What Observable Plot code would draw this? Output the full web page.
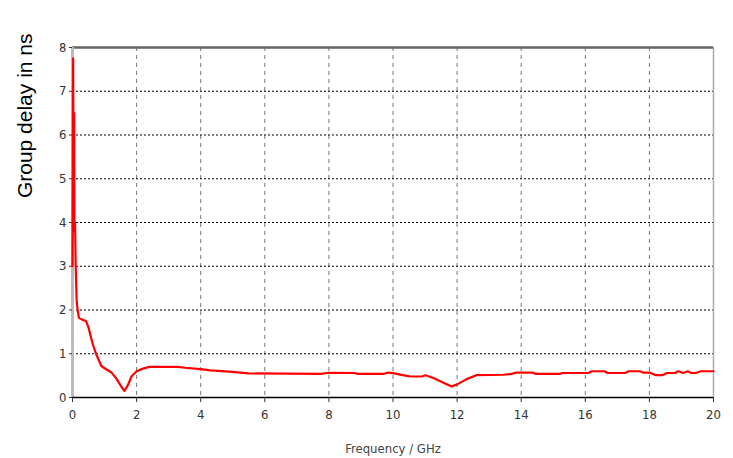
<!DOCTYPE html>
<html>
<head>
<meta charset="utf-8">
<script src="https://cdn.jsdelivr.net/npm/d3@7"></script>
<script src="https://cdn.jsdelivr.net/npm/@observablehq/plot@0.6"></script>
<style>
  html, body { margin: 0; padding: 0; background: #fff; }
  #chart svg { display: block; }
  #chart svg [aria-label^="x-axis tick label"], #chart svg [aria-label^="y-axis tick label"], #chart svg .xtitle { font-stretch: condensed; }
</style>
</head>
<body>
<div id="chart"></div>
<script>
// Frequency in GHz
const freq = [
  0.0, 0.02, 0.035, 0.05, 0.06, 0.08, 0.1, 0.13, 0.16, 0.2, 0.3, 0.42, 0.5, 0.56, 0.64, 0.75, 0.9,
  1.06, 1.22, 1.37, 1.53, 1.62, 1.74, 1.84, 2.0, 2.2, 2.4, 3.3, 3.5, 4.0, 4.3, 4.9, 5.5,
  7.75, 8.0, 8.8, 8.9, 9.7, 9.85, 10.05, 10.3, 10.55, 10.9, 11.02, 11.28, 11.54, 11.83,
  12.0, 12.3, 12.6, 13.45, 13.7, 13.85, 14.35, 14.45, 15.2, 15.3, 16.1, 16.2, 16.6, 16.7,
  17.25, 17.35, 17.7, 17.8, 18.0, 18.2, 18.4, 18.55, 18.8, 18.9, 19.05, 19.2, 19.3, 19.45, 19.6, 20.0
];
// Group delay in ns
const delay = [
  3.0, 7.75, 4.0, 6.5, 3.8, 4.0, 3.0, 2.2, 2.0, 1.82, 1.78, 1.75, 1.6, 1.42, 1.2, 0.97, 0.72,
  0.64, 0.57, 0.43, 0.24, 0.15, 0.3, 0.48, 0.6, 0.66, 0.7, 0.7, 0.68, 0.65, 0.62, 0.59, 0.55,
  0.54, 0.565, 0.56, 0.54, 0.54, 0.57, 0.55, 0.51, 0.48, 0.48, 0.51, 0.44, 0.35, 0.25,
  0.3, 0.42, 0.51, 0.52, 0.54, 0.57, 0.57, 0.54, 0.54, 0.56, 0.56, 0.6, 0.6, 0.56,
  0.56, 0.6, 0.6, 0.57, 0.57, 0.51, 0.51, 0.56, 0.56, 0.6, 0.56, 0.6, 0.56, 0.56, 0.6, 0.6
];
const xTicks = [0, 2, 4, 6, 8, 10, 12, 14, 16, 18, 20];
const yTicks = [0, 1, 2, 3, 4, 5, 6, 7, 8];
const xGrid = [2, 4, 6, 8, 10, 12, 14, 16, 18];
const yGrid = [1, 2, 3, 4, 5, 6, 7];
const xTitle = "Frequency / GHz";
const yTitle = "Group delay in ns";

const data = freq.map((f, i) => ({f, d: delay[i]}));

const chart = Plot.plot({
  width: 733,
  height: 458,
  marginLeft: 72,
  marginRight: 20,
  marginTop: 47,
  marginBottom: 61,
  style: {fontFamily: "'DejaVu Sans', sans-serif", fontSize: "13px", color: "#333", fontStretch: "condensed"},
  x: {domain: [0, 20]},
  y: {domain: [0, 8]},
  marks: [
    Plot.ruleX(xGrid, {stroke: "#777", strokeDasharray: "4,4", strokeWidth: 1}),
    Plot.ruleY(yGrid, {stroke: "#000", strokeDasharray: "2,2", strokeWidth: 1}),
    Plot.ruleX([20], {stroke: "#aaa", strokeWidth: 1.5}),
    Plot.ruleY([8], {stroke: "#666", strokeWidth: 2.5}),
    Plot.ruleX([0], {stroke: "#bbb", strokeWidth: 3}),
    Plot.ruleY([0], {stroke: "#000", strokeWidth: 1.5}),
    Plot.axisX({ticks: xTicks, tickSize: 5, tickPadding: 7, label: null, stroke: "#333", fill: "#333"}),
    Plot.axisY({ticks: yTicks, tickSize: 3, tickPadding: 3, label: null, stroke: "#333", fill: "#333"}),
    Plot.line(data, {x: "f", y: "d", stroke: "#ff0000", strokeWidth: 2.2, curve: "linear"}),
    Plot.text([xTitle], {frameAnchor: "bottom", dy: 51, lineAnchor: "middle", fill: "#444", fontSize: 13, className: "xtitle"}),
    Plot.text([yTitle], {frameAnchor: "top-left", dx: -47, dy: -14, rotate: -90, textAnchor: "end", lineAnchor: "middle", fontSize: 21, fill: "#000", fontFamily: "'Liberation Sans', Arial, sans-serif", fontWeight: "normal"})
  ]
});
document.getElementById("chart").appendChild(chart);
</script>
</body>
</html>
